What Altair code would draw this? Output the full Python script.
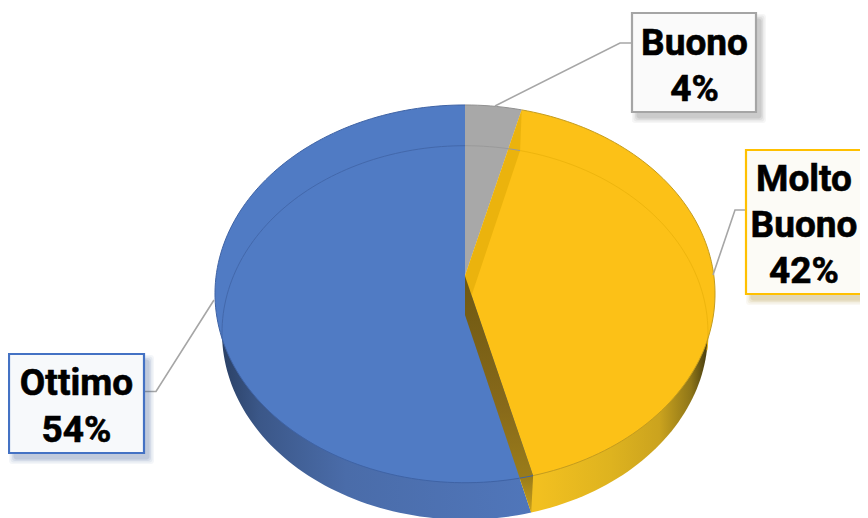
import math
import altair as alt
import pandas as pd

categories = ["Buono", "Molto Buono", "Ottimo"]
values = [4, 42, 54]
label_lines = [["Buono", "4%"], ["Molto", "Buono", "42%"], ["Ottimo", "54%"]]
top_colors = ["#A8A8A8", "#FCC117", "#507BC4"]
box_strokes = ["#A5A5A5", "#FFC000", "#4472C4"]
box_fills = ["#FAFAFA", "#FCFBF6", "#F7F9FB"]
shadow_colors = ["#555555", "#9A7A10", "#2F528F"]

# layout (pixel space of the picture)
X_SCALE = alt.Scale(domain=[8, 860], range=[0, 852])
Y_SCALE = alt.Scale(domain=[518, 8])
boxes = [(632, 756, 13, 112), (746, 880, 150, 294), (9, 144, 354, 453)]
leaders = [[(495, 106), (620, 43), (632, 43)],
           [(713, 275), (735, 210), (746, 210)],
           [(214, 300), (156, 391.5), (145, 391.5)]]
text_centers = [694.5, 804, 76.5]
text_baselines = [[55, 101], [191, 237, 283], [395, 441.5]]


def disc_point(frac, level):
    """Perspective view of a disc; frac=0 at the back, running clockwise."""
    k = 0.0945
    t = 2 * math.pi * frac
    X, Y = math.sin(t), math.cos(t)
    if level == "top":
        cy, sx, sy = 276, 248.9, 187.2
    else:
        cy, sx, sy = 315, 241.9, 185.3
    d = 1 + k * Y
    return 465 + X * sx / d, cy - Y * sy / d


def arc(f0, f1, level):
    n = max(2, int(abs(f1 - f0) * 240))
    return [disc_point(f0 + (f1 - f0) * i / n, level) for i in range(n + 1)]


def center(level):
    return (465, 276) if level == "top" else (465, 315)


def frame(points):
    return pd.DataFrame({"x": [p[0] for p in points], "y": [p[1] for p in points],
                         "i": list(range(len(points)))})


def enc(chart):
    return chart.encode(
        x=alt.X("x:Q", scale=X_SCALE, axis=None),
        y=alt.Y("y:Q", scale=Y_SCALE, axis=None),
        order=alt.Order("i:Q"),
    )


def poly(points, fill, stroke=None, width=0, opacity=1.0):
    kw = {"strokeWidth": width} if stroke else {"strokeWidth": 0}
    if stroke:
        kw["stroke"] = stroke
    return enc(alt.Chart(frame(points)).mark_line(
        interpolate="linear-closed", fill=fill, fillOpacity=opacity, clip=True, **kw))


def path(points, color, width=1.0, opacity=1.0):
    return enc(alt.Chart(frame(points)).mark_line(
        color=color, strokeWidth=width, opacity=opacity, clip=True))


def grad(stops, x1=0, y1=0, x2=1, y2=0):
    return alt.LinearGradient(
        gradient="linear", x1=x1, y1=y1, x2=x2, y2=y2,
        stops=[alt.GradientStop(offset=o, color=c) for o, c in stops])


total = sum(values)
b1 = values[0] / total
b2 = (values[0] + values[1]) / total

layers = []

# underside / outer wall
layers.append(poly([center("bot")] + arc(b2, 1, "bot"),
                   grad([(0, "#2B4166"), (0.12, "#3B5788"), (0.4, "#4A6CA9"), (1, "#5076BA")])))
layers.append(poly([center("bot")] + arc(b1, b2, "bot"),
                   grad([(0, "#F2C020"), (0.3, "#F2C020"), (0.6, "#DEB31F"), (0.8, "#CBA31E"),
                         (0.93, "#8F7618"), (1, "#443A10")])))

# top faces
layers.append(poly([center("top")] + arc(0, b1, "top"), top_colors[0]))
layers.append(poly([center("top")] + arc(b2, 1, "top"), top_colors[2]))
layers.append(poly([center("top")] + arc(b1, b2, "top"), top_colors[1]))

# cut wall seen through the yellow face (back)
layers.append(poly([center("top"), disc_point(b1, "top"), disc_point(b1, "bot"), center("bot")], "#EBB30D"))
# dark cut wall (front)
layers.append(poly([center("top"), disc_point(b2, "top"), disc_point(b2, "bot"), center("bot")],
                   grad([(0, "#6E5812"), (0.55, "#87691A"), (0.85, "#9A7C1A"), (1, "#C9A01C")],
                        x1=0, y1=0, x2=0, y2=1)))

# seen-through rim of the lower disc
layers.append(path(arc(0.73, 1, "bot"), "#4368AB", 1.0))
layers.append(path(arc(0, b1, "bot"), "#9A9A9A", 1.0))
layers.append(path(arc(b1, 0.28, "bot"), "#EEB50D", 1.0))

# rim of the top face
layers.append(path(arc(b2, 1, "top"), "#3F63A5", 1.0))
layers.append(path(arc(0, b1, "top"), "#909090", 1.0))
layers.append(path(arc(b1, b2, "top"), "#C49C1E", 1.0))

# leader lines
for pts in leaders:
    layers.append(path(pts, "#A6A6A6", 1.6))

# boxes with soft shadows
for (x0, x1, y0, y1), s, f, sh in zip(boxes, box_strokes, box_fills, shadow_colors):
    for grow, op in [(5, 0.05), (3.5, 0.07), (2, 0.09), (0.5, 0.12)]:
        layers.append(alt.Chart(pd.DataFrame({"x": [x0 + 5 - grow], "x2": [x1 + 5 + grow],
                                              "y": [y0 + 6 - grow], "y2": [y1 + 6 + grow]}))
                      .mark_rect(color=sh, opacity=op, cornerRadius=3, clip=True)
                      .encode(x=alt.X("x:Q", scale=X_SCALE, axis=None), x2="x2:Q",
                              y=alt.Y("y:Q", scale=Y_SCALE, axis=None), y2="y2:Q"))
    layers.append(alt.Chart(pd.DataFrame({"x": [x0], "x2": [x1], "y": [y0], "y2": [y1]}))
                  .mark_rect(fill=f, stroke=s, strokeWidth=2.2, clip=True)
                  .encode(x=alt.X("x:Q", scale=X_SCALE, axis=None), x2="x2:Q",
                          y=alt.Y("y:Q", scale=Y_SCALE, axis=None), y2="y2:Q"))

# label text
text_rows = []
for lines, cx, bases in zip(label_lines, text_centers, text_baselines):
    for line, b in zip(lines, bases):
        text_rows.append({"x": cx, "y": b, "t": line})
layers.append(alt.Chart(pd.DataFrame(text_rows)).mark_text(
    font="Roboto", fontWeight="bold", fontSize=37, color="#000000",
    stroke="#000000", strokeWidth=0.6,
    align="center", baseline="alphabetic").encode(
    x=alt.X("x:Q", scale=X_SCALE, axis=None),
    y=alt.Y("y:Q", scale=Y_SCALE, axis=None),
    text="t:N"))

chart = alt.layer(*layers).properties(
    width=852, height=510, padding=0, autosize="none", background="#FFFFFF"
).configure_view(stroke=None)

chart.save("out.html", embed_options={"renderer": "svg", "actions": False})
